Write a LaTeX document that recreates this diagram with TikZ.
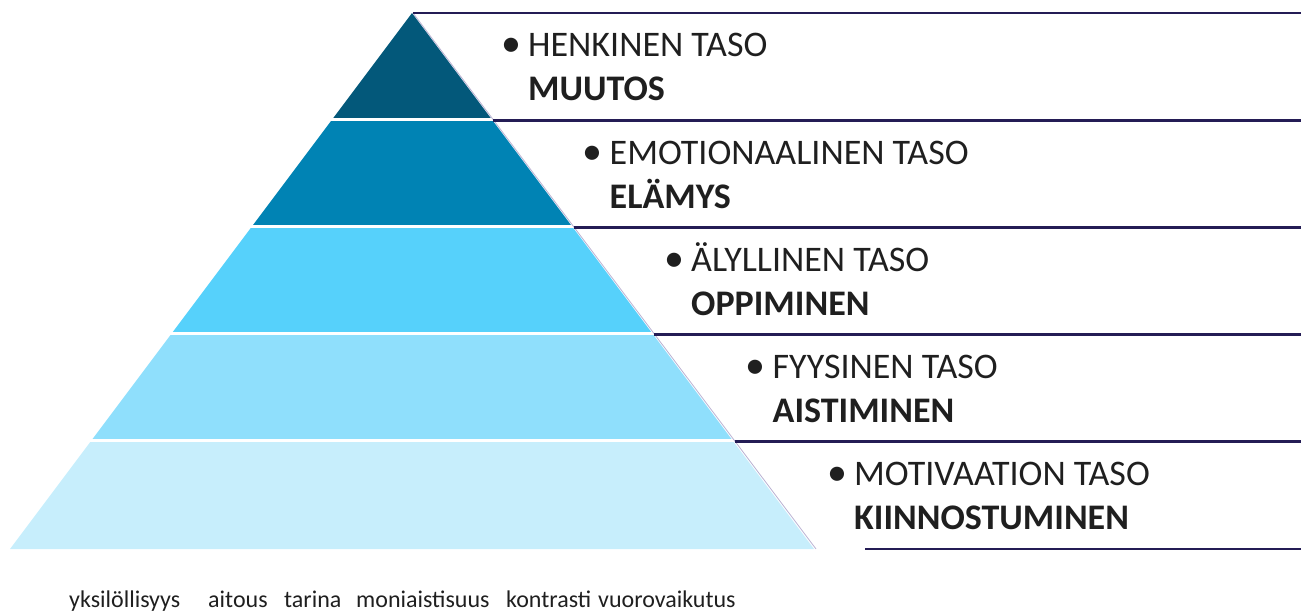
\documentclass[tikz,border=0pt]{standalone}
\usepackage{fontspec}
\setmainfont{Carlito}
\definecolor{lvA}{HTML}{03587A}
\definecolor{lvB}{HTML}{0083B4}
\definecolor{lvC}{HTML}{56D1FB}
\definecolor{lvD}{HTML}{8FDFFC}
\definecolor{lvE}{HTML}{C7EEFC}
\definecolor{rule}{HTML}{241C55}
\definecolor{edgeline}{HTML}{B9B2D3}
\definecolor{ink}{HTML}{1F1F1F}
\tikzset{
  label/.style={anchor=base west, inner sep=0pt, text=ink, font=\fontsize{36}{36}\selectfont},
  boldlabel/.style={label, font=\fontsize{36}{36}\selectfont\bfseries},
  word/.style={anchor=base west, inner sep=0pt, text=ink, font=\fontsize{24}{24}\selectfont},
  ruleline/.style={draw=rule, line width=2.8pt},
}
\begin{document}
\begin{tikzpicture}[x=1pt, y=-1pt]
\useasboundingbox (0,0) rectangle (1301,615);
% pyramid layers: apex (412,13), base from 10 to 814 at y=549
\def\ay{13}
\def\h{107.2}
\foreach \i/\col in {0/lvA,1/lvB,2/lvC,3/lvD,4/lvE}{
  \pgfmathsetmacro{\yt}{\ay+\h*\i}
  \pgfmathsetmacro{\yb}{\ay+\h*(\i+1)}
  \pgfmathsetmacro{\dt}{0.75*\h*\i}
  \pgfmathsetmacro{\db}{0.75*\h*(\i+1)}
  \fill[\col] (412-\dt,\yt) -- (412+\dt,\yt) -- (412+\db,\yb) -- (412-\db,\yb) -- cycle;
}
% white gaps between the layers
\foreach \i in {1,2,3,4}{
  \pgfmathsetmacro{\yy}{\ay+\h*\i-1}
  \pgfmathsetmacro{\dd}{0.75*\h*\i+3}
  \draw[white, line width=3pt] (412-\dd,\yy) -- (412+\dd,\yy);
}
% thin line along the right flank
\coordinate (apex) at (413,\ay);
\coordinate (foot) at (816,549);
\draw[edgeline, line width=0.8pt] (apex) -- (foot);
% horizontal rules to the right
\foreach \k in {0,1,2,3,4}{
  \pgfmathsetmacro{\yy}{\ay+\h*\k}
  \pgfmathsetmacro{\xx}{413+80.4*\k}
  \coordinate (rs\k) at (\xx,\yy);
  \coordinate (re\k) at (1301,\yy);
  \draw[ruleline] (rs\k) -- (re\k);
}
\coordinate (rs5) at (865,549);
\coordinate (re5) at (1301,549);
\draw[ruleline] (rs5) -- (re5);
% level captions
\foreach \i/\top/\bot in {0/HENKINEN TASO/MUUTOS,1/EMOTIONAALINEN TASO/ELÄMYS,2/ÄLYLLINEN TASO/OPPIMINEN,3/FYYSINEN TASO/AISTIMINEN,4/MOTIVAATION TASO/KIINNOSTUMINEN}{
  \pgfmathsetmacro{\bx}{501+81.5*\i}
  \pgfmathsetmacro{\tx}{528+81.5*\i}
  \pgfmathsetmacro{\ya}{57+\h*\i}
  \pgfmathsetmacro{\yc}{101+\h*\i}
  \node[label, font=\fontsize{40}{40}\selectfont] (bul\i) at (\bx,\ya) {•};
  \node[label] (cap\i) at (\tx,\ya) {\top};
  \node[boldlabel] (key\i) at (\tx,\yc) {\bot};
}
% keywords below the pyramid
\node[word] (w1) at (69,607) {yksilöllisyys};
\node[word] (w2) at (208,607) {aitous};
\node[word] (w3) at (284,607) {tarina};
\node[word] (w4) at (356,607) {moniaistisuus};
\node[word] (w5) at (506,607) {kontrasti};
\node[word] (w6) at (598,607) {vuorovaikutus};
\end{tikzpicture}
\end{document}
